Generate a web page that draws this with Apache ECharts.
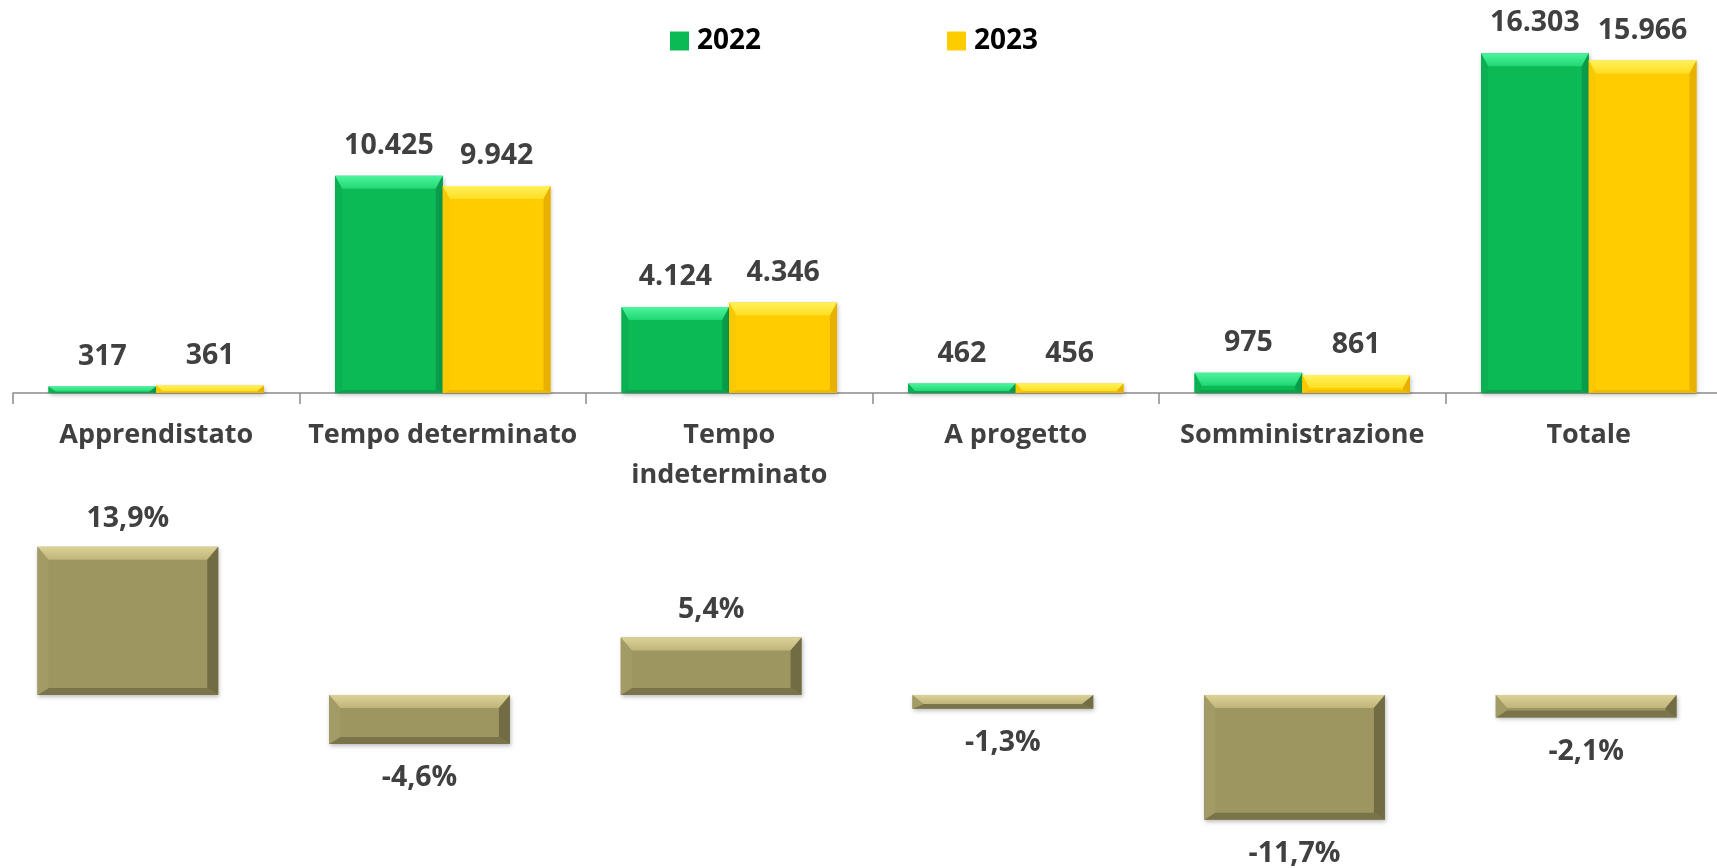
<!DOCTYPE html>
<html>
<head>
<meta charset="utf-8">
<script src="https://cdn.jsdelivr.net/npm/echarts@6/dist/echarts.min.js"></script>
<style>
  html, body { margin: 0; padding: 0; background: #fff; }
  #chart { width: 1717px; height: 868px; }
</style>
</head>
<body>
<div id="chart"></div>
<script>
// dati
var categories = ['Apprendistato', 'Tempo determinato', 'Tempo\nindeterminato', 'A progetto', 'Somministrazione', 'Totale'];
var values2022 = [317, 10425, 4124, 462, 975, 16303];
var values2023 = [361, 9942, 4346, 456, 861, 15966];
var variation = [13.9, -4.6, 5.4, -1.3, -11.7, -2.1];

var FONT = 'bold 28.5px "Open Sans"';
var LABEL_COLOR = '#404040';

function fmtInt(v) {
  return String(v).replace(/\B(?=(\d{3})+(?!\d))/g, '.');
}
function fmtPct(v) {
  return v.toFixed(1).replace('.', ',') + '%';
}

// barra con effetto smussato (bevel)
function bevelBar(o) {
  return function (params, api) {
    var i = api.value(0), v = api.value(1);
    var base = api.coord([i, 0]), end = api.coord([i, v]);
    var band = api.size([1, 0])[0];
    var cx = base[0] + band * o.offset;
    var w = band * o.width;
    var x0 = cx - w / 2, x1 = cx + w / 2;
    var y0 = Math.min(base[1], end[1]), y1 = Math.max(base[1], end[1]);
    var h = y1 - y0;
    var bt = o.bt, bb = o.bb;
    if (bt + bb > h) { var k = h / (bt + bb); bt *= k; bb *= k; }
    var bs = Math.min(o.bs, w / 2);
    function poly(pts, fill) {
      return { type: 'polygon', shape: { points: pts }, style: { fill: fill } };
    }
    var ly = v >= 0 ? y0 - o.dAbove : y1 + o.dBelow;
    return {
      type: 'group',
      children: [
        { type: 'rect', shape: { x: x0, y: y0, width: w, height: h },
          style: { fill: o.face, shadowBlur: 4, shadowColor: 'rgba(0,0,0,0.25)', shadowOffsetX: 1, shadowOffsetY: 2 } },
        poly([[x0, y0], [x1, y0], [x1 - bs, y0 + bt], [x0 + bs, y0 + bt]], {
          type: 'linear', x: 0, y: 0, x2: 0, y2: 1,
          colorStops: [{ offset: 0, color: o.top[0] }, { offset: 1, color: o.top[1] }]
        }),
        poly([[x0, y1], [x1, y1], [x1 - bs, y1 - bb], [x0 + bs, y1 - bb]], o.bottom),
        poly([[x0, y0], [x0 + bs, y0 + bt], [x0 + bs, y1 - bb], [x0, y1]], o.left),
        poly([[x1, y0], [x1 - bs, y0 + bt], [x1 - bs, y1 - bb], [x1, y1]], o.right),
        { type: 'text', style: {
            text: o.fmt(v), x: cx, y: ly, font: FONT, fill: LABEL_COLOR,
            align: 'center', verticalAlign: 'middle',
            textAlign: 'center', textVerticalAlign: 'middle'
        } }
      ]
    };
  };
}

var green = { face: '#0BBA55', top: ['#4CF59E', '#22D673'], left: '#0BB053', right: '#099C4A', bottom: '#0AA34C' };
var yellow = { face: '#FFCC00', top: ['#FFF25A', '#FFDE24'], left: '#FAC800', right: '#E8B000', bottom: '#EDBB00' };
var olive = { face: '#9E9660', top: ['#DDD296', '#BFB57A'], left: '#A39B65', right: '#726C44', bottom: '#7A744B' };

function opt(colors, extra) {
  var r = {};
  Object.keys(colors).forEach(function (k) { r[k] = colors[k]; });
  Object.keys(extra).forEach(function (k) { r[k] = extra[k]; });
  return r;
}

var chart = echarts.init(document.getElementById('chart'));

var option = {
  animation: false,
  legend: {
    data: ['2022', '2023'],
    left: 665,
    top: 22,
    itemWidth: 19,
    itemHeight: 19,
    itemGap: 186,
    icon: 'rect',
    textStyle: { fontFamily: 'Open Sans', fontWeight: 'bold', fontSize: 28, color: '#000', padding: [0, 0, 0, 3] }
  },
  grid: [
    { left: 13, width: 1719, top: 18, height: 375, outerBoundsMode: 'none', containLabel: false },
    { left: -18, width: 1750, top: 535, height: 320, outerBoundsMode: 'none', containLabel: false }
  ],
  xAxis: [
    {
      type: 'category', gridIndex: 0, data: categories,
      axisLine: { lineStyle: { color: '#8A8A8A', width: 1.5 } },
      axisTick: { show: true, interval: 0, length: 11, lineStyle: { color: '#8A8A8A', width: 1.5 } },
      axisLabel: {
        interval: 0, margin: 22, color: LABEL_COLOR,
        fontFamily: 'Open Sans', fontWeight: 'bold', fontSize: 27, lineHeight: 40
      }
    },
    { type: 'category', gridIndex: 1, data: categories, show: false }
  ],
  yAxis: [
    { type: 'value', gridIndex: 0, min: 0, max: 18000, show: false, splitLine: { show: false } },
    { type: 'value', gridIndex: 1, min: -15, max: 15, show: false, splitLine: { show: false } }
  ],
  series: [
    {
      name: '2022', type: 'custom', xAxisIndex: 0, yAxisIndex: 0,
      itemStyle: { color: green.face },
      encode: { x: 0, y: 1 },
      renderItem: bevelBar(opt(green, { offset: -0.188, width: 0.376, bt: 13, bs: 7, bb: 3, dAbove: 30, dBelow: 30, fmt: fmtInt })),
      data: values2022.map(function (v, i) { return [i, v]; })
    },
    {
      name: '2023', type: 'custom', xAxisIndex: 0, yAxisIndex: 0,
      itemStyle: { color: yellow.face },
      encode: { x: 0, y: 1 },
      renderItem: bevelBar(opt(yellow, { offset: 0.188, width: 0.376, bt: 13, bs: 7, bb: 3, dAbove: 30, dBelow: 30, fmt: fmtInt })),
      data: values2023.map(function (v, i) { return [i, v]; })
    },
    {
      name: 'Variazione %', type: 'custom', xAxisIndex: 1, yAxisIndex: 1,
      itemStyle: { color: olive.face },
      encode: { x: 0, y: 1 },
      renderItem: bevelBar(opt(olive, { offset: 0, width: 0.62, bt: 13, bs: 11, bb: 7, dAbove: 28, dBelow: 34, fmt: fmtPct })),
      data: variation.map(function (v, i) { return [i, v]; })
    }
  ]
};

chart.setOption(option);
</script>
</body>
</html>
